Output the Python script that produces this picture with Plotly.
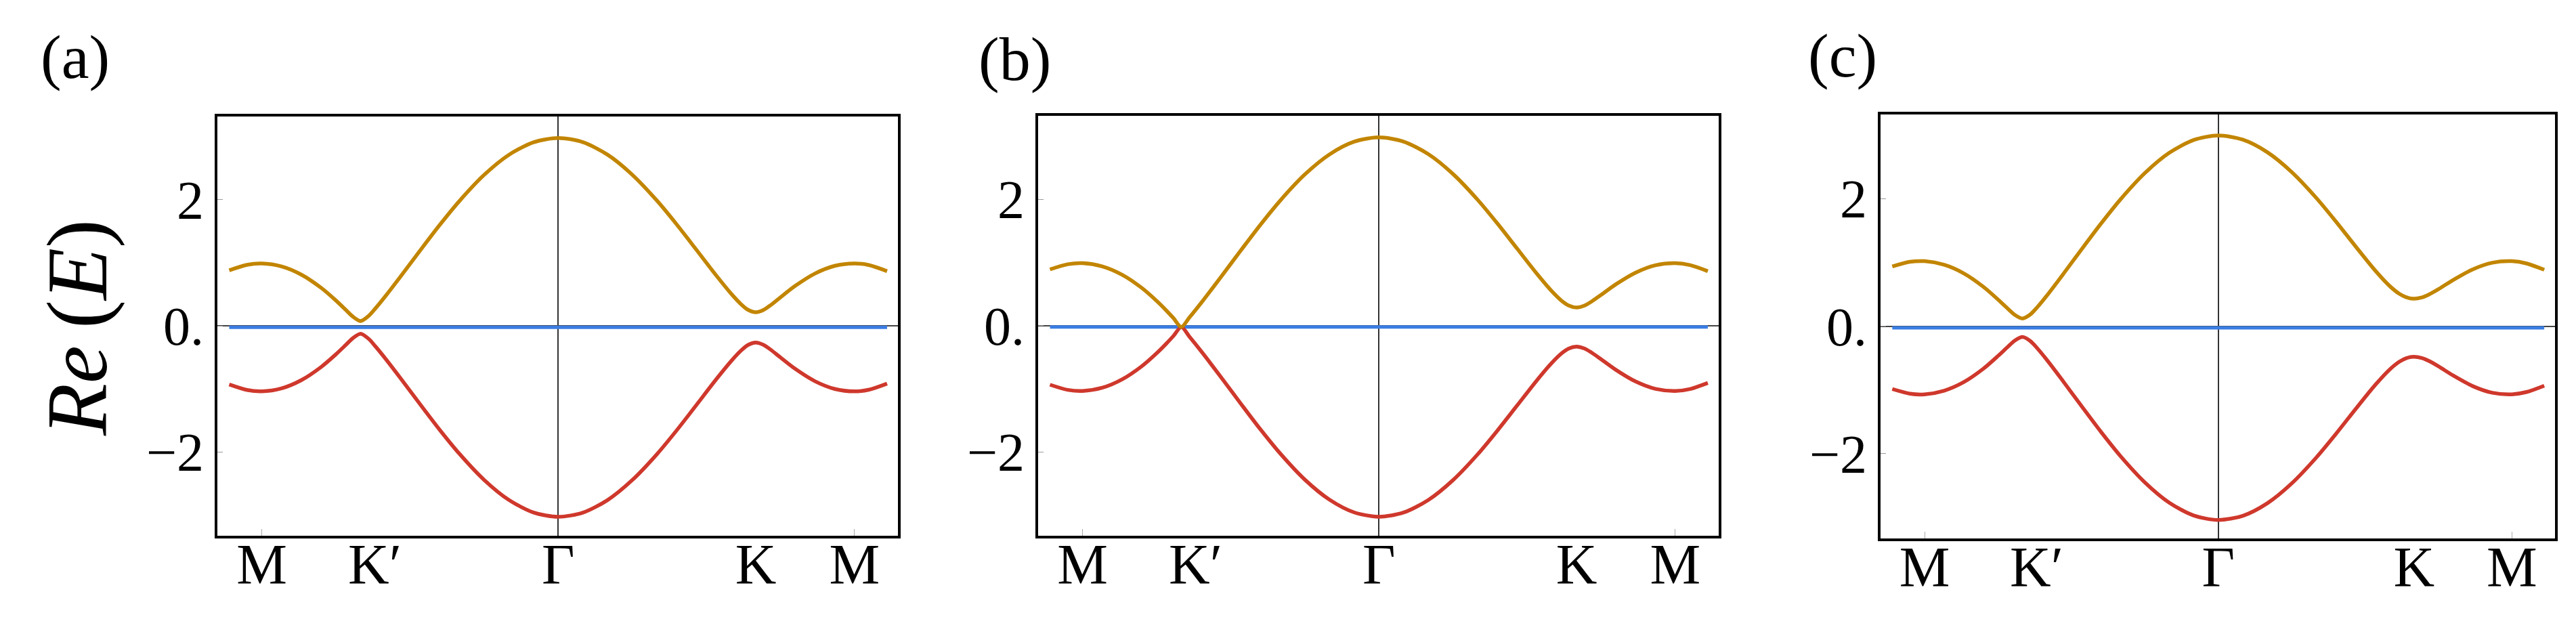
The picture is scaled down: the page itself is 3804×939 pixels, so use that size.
import plotly.graph_objects as go

# ---------------- data ----------------
k = [-3.33, -3.15, -3.0, -2.8, -2.6, -2.4, -2.25, -2.15, -2.08, -2.0, -1.92, -1.85, -1.75, -1.6,
     -1.4, -1.2, -1.0, -0.75, -0.5, -0.25, 0.0, 0.25, 0.5, 0.75, 1.0, 1.2, 1.4, 1.6, 1.75, 1.85,
     1.92, 2.0, 2.08, 2.15, 2.25, 2.4, 2.6, 2.8, 3.0, 3.15, 3.33]

upper_a = [0.881, 0.968, 0.989, 0.942, 0.812, 0.603, 0.402, 0.253, 0.148, 0.075, 0.154, 0.276,
           0.468, 0.773, 1.189, 1.598, 1.979, 2.393, 2.711, 2.911, 2.980, 2.913, 2.714, 2.397,
           1.986, 1.608, 1.205, 0.799, 0.512, 0.345, 0.256, 0.215, 0.253, 0.327, 0.451, 0.633,
           0.829, 0.951, 0.989, 0.962, 0.867]
lower_a = [-0.931, -1.018, -1.039, -0.992, -0.862, -0.653, -0.452, -0.303, -0.198, -0.125,
           -0.204, -0.326, -0.518, -0.823, -1.239, -1.648, -2.029, -2.443, -2.761, -2.961,
           -3.030, -2.963, -2.764, -2.447, -2.036, -1.658, -1.255, -0.849, -0.562, -0.395,
           -0.306, -0.265, -0.303, -0.377, -0.501, -0.683, -0.879, -1.001, -1.039, -1.012, -0.917]

upper_b = [0.888, 0.970, 0.987, 0.936, 0.804, 0.594, 0.389, 0.234, 0.116, -0.025, 0.123, 0.258,
           0.457, 0.766, 1.184, 1.594, 1.976, 2.391, 2.709, 2.910, 2.979, 2.912, 2.714, 2.399,
           1.990, 1.614, 1.216, 0.818, 0.543, 0.391, 0.317, 0.285, 0.314, 0.376, 0.485, 0.653,
           0.838, 0.954, 0.987, 0.956, 0.860]
lower_b = [-0.938, -1.020, -1.037, -0.986, -0.854, -0.644, -0.439, -0.284, -0.166, -0.025,
           -0.173, -0.308, -0.507, -0.816, -1.234, -1.644, -2.026, -2.441, -2.759, -2.960,
           -3.029, -2.962, -2.764, -2.449, -2.040, -1.664, -1.266, -0.868, -0.593, -0.441,
           -0.367, -0.335, -0.364, -0.426, -0.535, -0.703, -0.888, -1.004, -1.037, -1.006, -0.910]

upper_c = [0.936, 1.009, 1.019, 0.962, 0.828, 0.618, 0.418, 0.274, 0.178, 0.120, 0.183, 0.295,
           0.481, 0.783, 1.197, 1.604, 1.986, 2.400, 2.719, 2.920, 2.990, 2.925, 2.729, 2.417,
           2.013, 1.644, 1.256, 0.878, 0.631, 0.507, 0.452, 0.430, 0.450, 0.495, 0.581, 0.725,
           0.891, 0.995, 1.019, 0.983, 0.884]
lower_c = [-0.986, -1.059, -1.069, -1.012, -0.878, -0.668, -0.468, -0.324, -0.228, -0.170,
           -0.233, -0.345, -0.531, -0.833, -1.247, -1.654, -2.036, -2.450, -2.769, -2.970,
           -3.040, -2.975, -2.779, -2.467, -2.063, -1.694, -1.306, -0.928, -0.681, -0.557,
           -0.502, -0.480, -0.500, -0.545, -0.631, -0.775, -0.941, -1.045, -1.069, -1.033, -0.934]

flat_k = [-3.33, 3.33]
flat_e = [-0.025, -0.025]

kpoint_pos = [-3, -2, 0, 2, 3]
kpoint_labels = ["M", "\u2002K\u2032", "\u0393", "K", "M"]
e_ticks = [-2, 0, 2]
e_tick_labels = ["\u22122", "0.", "2"]
panel_labels = ["(a)", "(b)", "(c)"]

panels = [(upper_a, lower_a), (upper_b, lower_b), (upper_c, lower_c)]

# ---------------- styling ----------------
GOLD = "#C28500"
RED = "#CF382C"
BLUE = "#3A7DE3"
FONT = "Liberation Serif"
W, H = 3804, 939

x_domains = [[313 / W, 1318 / W], [1525 / W, 2530 / W], [2769 / W, 3765 / W]]
y_domains = [[1 - 783 / H, 1 - 164 / H], [1 - 783 / H, 1 - 163 / H], [1 - 787 / H, 1 - 161 / H]]
label_pos = [(103, 76), (1490, 79), (2713, 74)]

fig = go.Figure()
layout = dict(
    width=W, height=H, autosize=False,
    margin=dict(l=0, r=0, t=0, b=0),
    paper_bgcolor="white", plot_bgcolor="white",
    showlegend=False,
    annotations=[],
)

for i, (up, lo) in enumerate(panels):
    n = "" if i == 0 else str(i + 1)
    xa, ya = "x" + n, "y" + n
    fig.add_trace(go.Scatter(x=flat_k, y=flat_e, mode="lines", xaxis=xa, yaxis=ya,
                             line=dict(color=BLUE, width=5)))
    fig.add_trace(go.Scatter(x=k, y=lo, mode="lines", xaxis=xa, yaxis=ya,
                             line=dict(color=RED, width=5.5, shape="spline", smoothing=0.8)))
    fig.add_trace(go.Scatter(x=k, y=up, mode="lines", xaxis=xa, yaxis=ya,
                             line=dict(color=GOLD, width=5.5, shape="spline", smoothing=0.8)))

    layout["xaxis" + n] = dict(
        domain=x_domains[i], anchor=ya, range=[-3.45, 3.44],
        showline=True, mirror=True, linecolor="black", linewidth=4,
        showgrid=False, zeroline=True, zerolinecolor="#333333", zerolinewidth=1.5,
        tickmode="array", tickvals=kpoint_pos, ticktext=kpoint_labels, ticks="",
        ticklabelstandoff=-34,
        tickfont=dict(family=FONT, size=84, color="black"),
        minor=dict(tickvals=[kpoint_pos[0], kpoint_pos[-1]], ticks="inside", ticklen=10,
                   tickwidth=1.2, tickcolor="#aaaaaa", showgrid=False),
    )
    layout["yaxis" + n] = dict(
        domain=y_domains[i], anchor=xa, range=[-3.33, 3.32],
        showline=True, mirror=True, linecolor="black", linewidth=4,
        showgrid=False, zeroline=True, zerolinecolor="#444444", zerolinewidth=1.5,
        tickmode="array", tickvals=e_ticks, ticktext=e_tick_labels,
        ticks="inside", ticklen=8, tickwidth=1.2, tickcolor="#999999",
        tickfont=dict(family=FONT, size=80, color="black"),
    )
    lx, ly = label_pos[i]
    layout["annotations"].append(dict(
        text=panel_labels[i], x=lx / W, y=1 - ly / H, xref="paper", yref="paper",
        xanchor="center", yanchor="middle", showarrow=False,
        font=dict(family=FONT, size=92, color="black")))

layout["annotations"].append(dict(
    text="<i>Re</i>\u2009(<i>E</i>)", x=107 / W, y=1 - 476 / H,
    xref="paper", yref="paper",
    xanchor="center", yanchor="middle", textangle=-90, showarrow=False,
    font=dict(family=FONT, size=126, color="black")))

fig.update_layout(**layout)
fig.write_html("out.html")
